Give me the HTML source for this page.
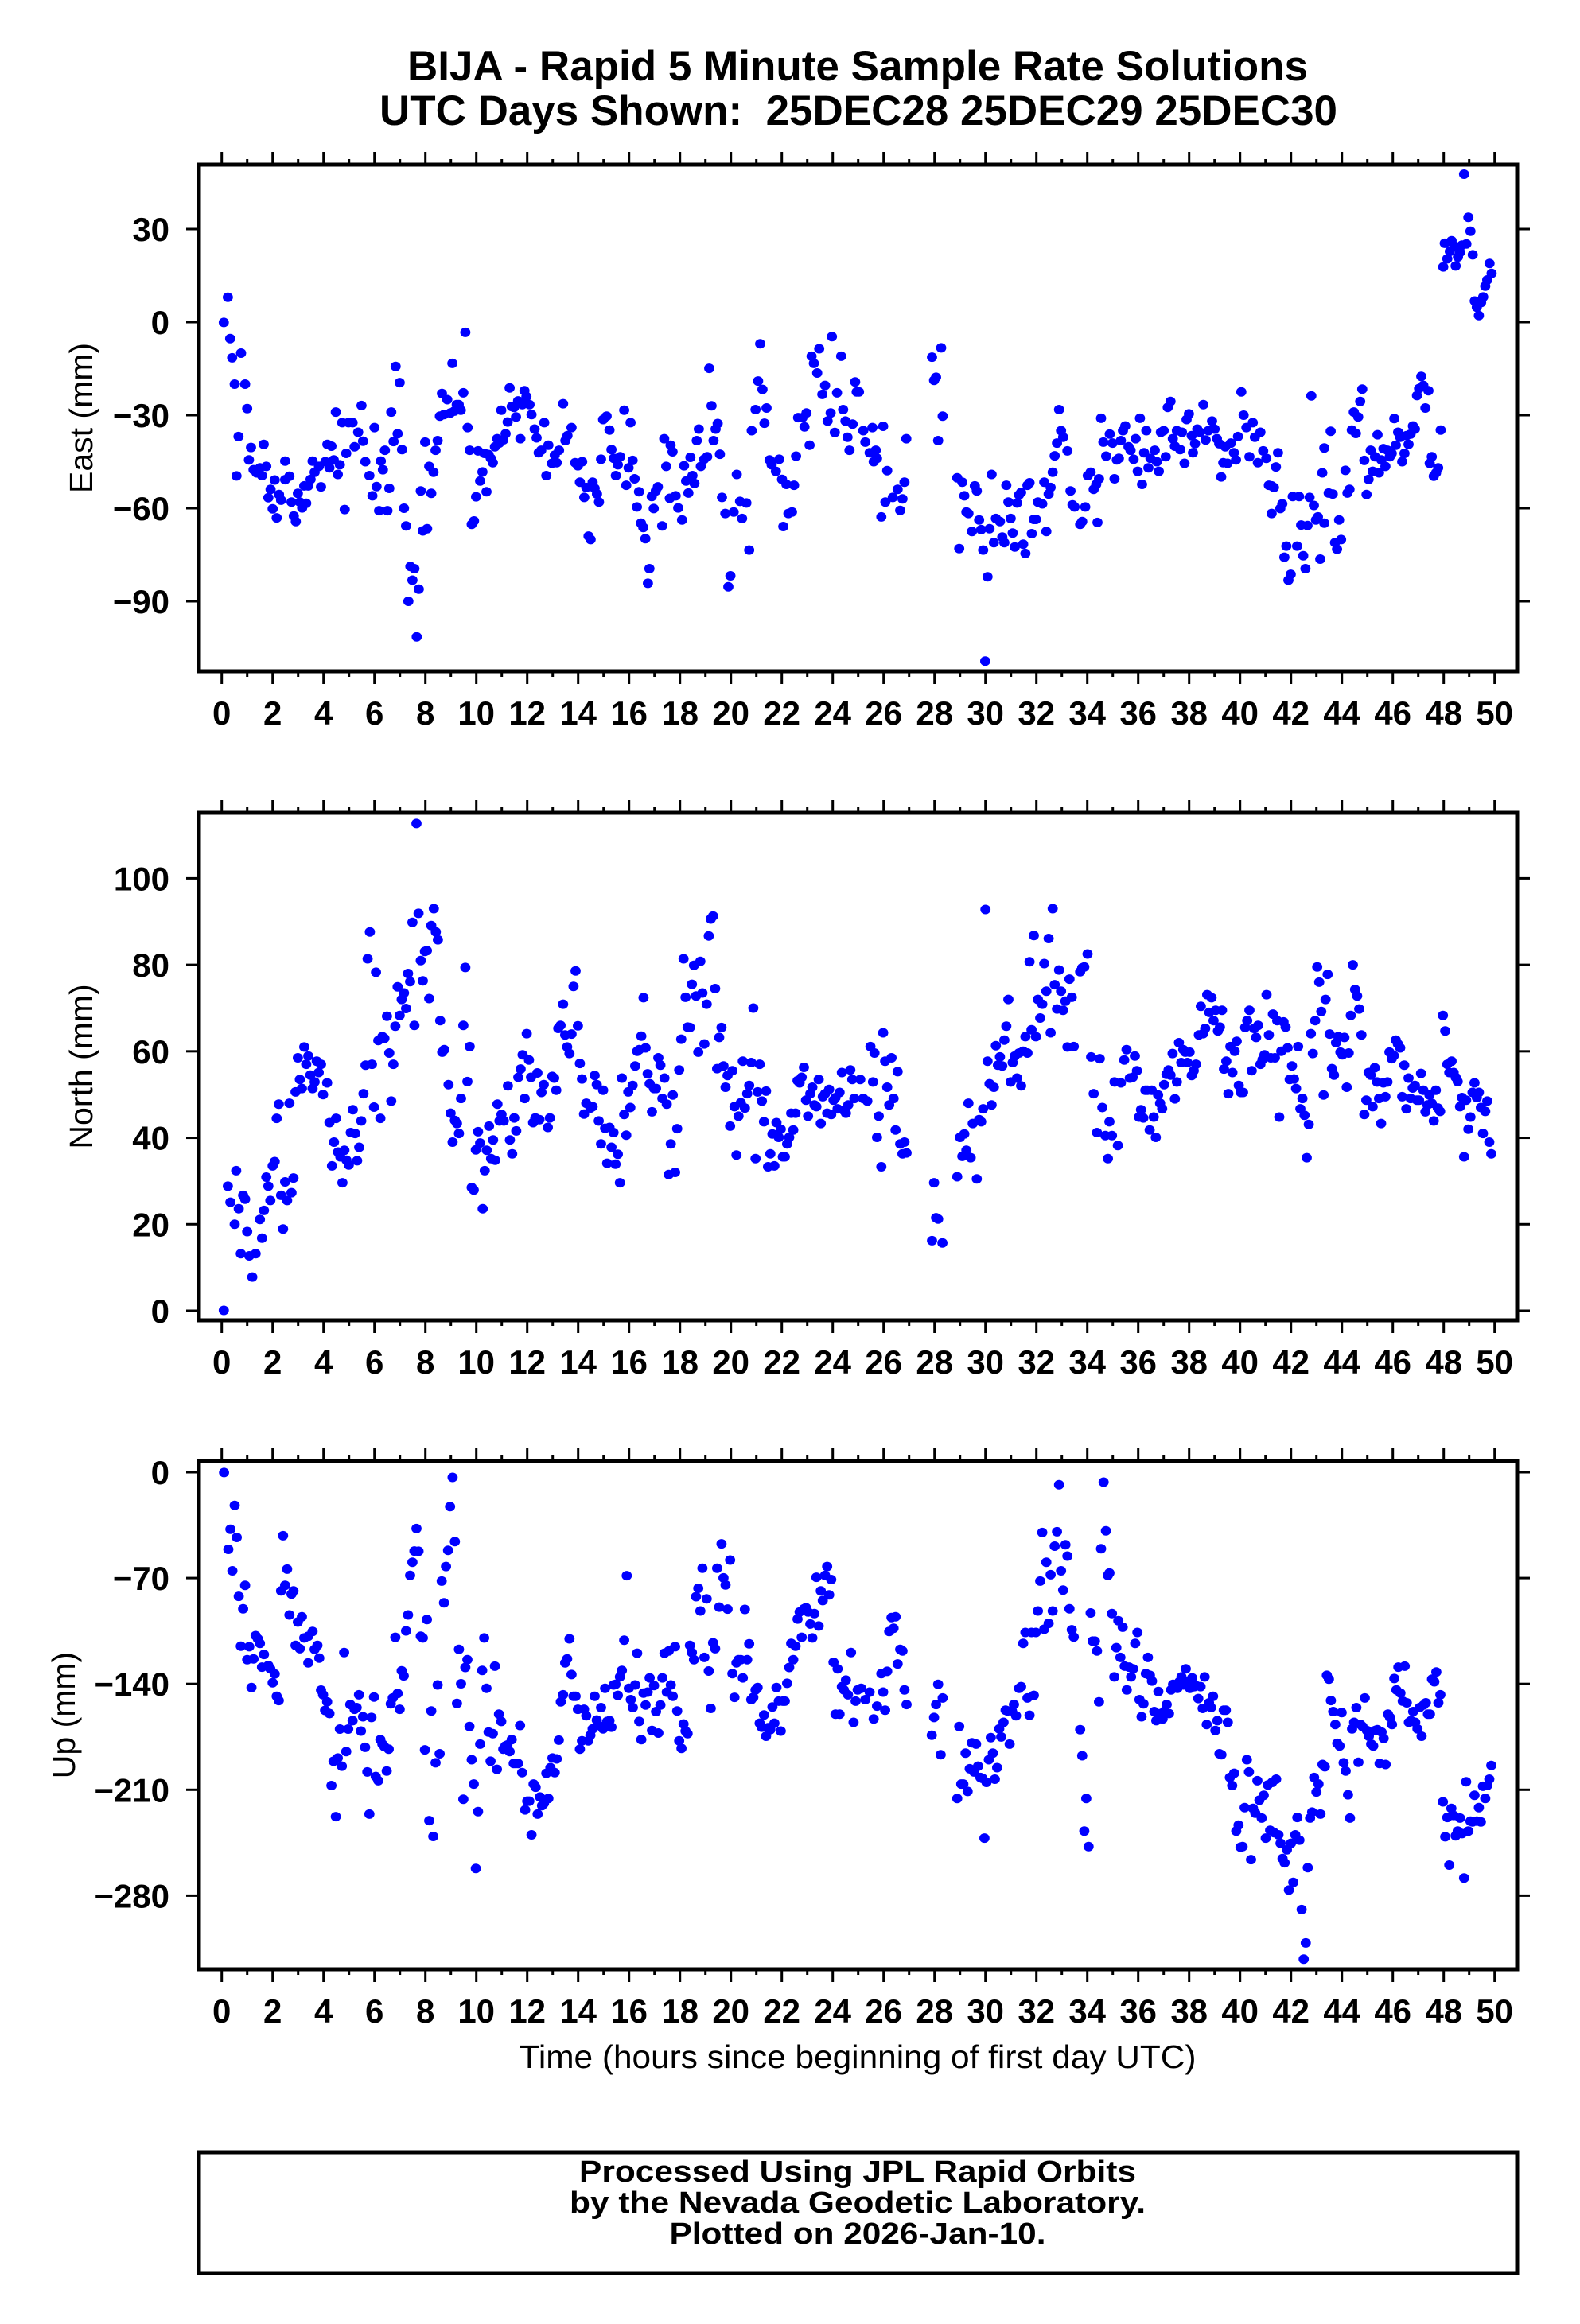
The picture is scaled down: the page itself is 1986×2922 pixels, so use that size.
<!DOCTYPE html>
<html><head><meta charset="utf-8"><title>BIJA Rapid 5 Minute Solutions</title>
<style>
html,body{margin:0;padding:0;background:#fff;}
svg{display:block;font-family:"Liberation Sans",Arial,sans-serif;}
</style></head>
<body>
<svg id="chart" width="1986" height="2922" viewBox="0 0 1986 2922" xmlns="http://www.w3.org/2000/svg">
<rect x="0" y="0" width="1986" height="2922" fill="#fff"/>
<text x="1078" y="101" text-anchor="middle" font-weight="bold" font-size="53" textLength="1132" lengthAdjust="spacingAndGlyphs">BIJA - Rapid 5 Minute Sample Rate Solutions</text>
<text x="1079" y="157" text-anchor="middle" font-weight="bold" font-size="53" textLength="1204" lengthAdjust="spacingAndGlyphs" xml:space="preserve">UTC Days Shown:  25DEC28 25DEC29 25DEC30</text>
<g id="panels"></g>
<text x="1078" y="2600" text-anchor="middle" font-size="41" textLength="851" lengthAdjust="spacingAndGlyphs">Time (hours since beginning of first day UTC)</text>
<rect x="250" y="2706" width="1657" height="152" fill="none" stroke="#000" stroke-width="5"/>
<text x="1078" y="2743" text-anchor="middle" font-weight="bold" font-size="38" textLength="700" lengthAdjust="spacingAndGlyphs">Processed Using JPL Rapid Orbits</text>
<text x="1078" y="2782" text-anchor="middle" font-weight="bold" font-size="38" textLength="724" lengthAdjust="spacingAndGlyphs">by the Nevada Geodetic Laboratory.</text>
<text x="1078" y="2821" text-anchor="middle" font-weight="bold" font-size="38" textLength="473" lengthAdjust="spacingAndGlyphs">Plotted on 2026-Jan-10.</text>
</svg>
<script>
// ---------- data ----------
const xTicks = [0,2,4,6,8,10,12,14,16,18,20,22,24,26,28,30,32,34,36,38,40,42,44,46,48,50];
const eastTicks = [30,0,-30,-60,-90];
const northTicks = [100,80,60,40,20,0];
const upTicks = [0,-70,-140,-210,-280];

const eastTime = [0.08,0.24,0.33,0.41,0.51,0.58,0.66,0.76,0.92,1.0,1.07,1.15,1.25,1.37,1.5,1.58,1.65,1.75,1.83,1.92,2.0,2.08,2.16,2.25,2.33,2.49,2.49,2.66,2.74,2.83,2.91,2.99,3.07,3.16,3.32,3.24,3.4,3.49,3.57,3.65,3.82,3.9,4.07,4.15,4.31,4.23,4.4,4.48,4.56,4.64,4.73,4.83,4.89,4.98,5.14,5.22,5.36,5.49,5.55,5.64,5.8,5.92,6.0,6.08,6.18,6.25,6.33,6.41,6.51,6.58,6.66,6.75,6.83,6.91,6.99,7.08,7.16,7.24,7.33,7.41,7.57,7.49,7.66,7.74,7.82,7.9,8.07,7.99,8.15,8.23,8.32,8.4,8.48,8.57,8.73,8.65,8.86,8.98,9.06,9.14,9.23,9.31,9.39,9.49,9.57,9.66,9.74,9.82,9.91,9.99,10.07,10.15,10.24,10.32,10.4,10.48,10.57,10.65,10.73,10.82,10.9,10.98,11.06,11.15,11.23,11.31,11.39,11.48,11.56,11.64,11.73,11.81,11.89,11.97,12.09,12.17,12.29,12.37,12.45,12.55,12.67,12.75,12.83,12.97,13.08,13.16,13.25,13.41,13.5,13.58,13.74,13.88,13.99,14.07,14.16,14.24,14.32,14.41,14.49,14.57,14.65,14.74,14.82,14.9,14.98,15.12,15.23,15.31,15.4,15.48,15.56,15.65,15.81,15.89,15.98,16.06,16.14,16.22,16.31,16.39,16.47,16.56,16.64,16.74,16.8,16.89,16.97,17.05,17.13,17.3,17.38,17.46,17.6,17.63,17.71,17.83,17.93,18.08,18.16,18.24,18.33,18.41,18.49,18.57,18.66,18.74,18.82,18.95,19.07,19.15,19.24,19.32,19.4,19.48,19.57,19.65,19.78,19.9,19.98,20.11,20.23,20.36,20.44,20.61,20.72,20.82,20.97,21.07,21.15,21.24,21.32,21.4,21.52,21.6,21.77,21.9,22.01,22.06,22.18,22.26,22.4,22.48,22.56,22.64,22.81,22.89,22.97,23.09,23.17,23.26,23.39,23.47,23.59,23.7,23.8,23.92,23.97,24.08,24.17,24.33,24.41,24.5,24.58,24.66,24.78,24.88,24.94,
25.03,25.2,25.56,25.98,25.28,25.45,25.69,25.74,25.61,25.91,26.14,26.07,26.36,26.55,26.65,26.74,26.82,26.89,27.9,27.98,28.06,28.26,28.32,28.14,28.89,29.09,29.17,28.97,29.33,29.25,29.47,29.58,29.66,29.75,29.83,29.91,30.08,29.99,30.16,30.24,30.33,30.41,30.57,30.66,30.74,30.82,30.9,30.99,31.07,31.15,31.24,31.32,31.4,31.48,31.57,31.65,31.73,31.82,31.9,31.98,32.06,32.23,32.31,32.48,32.56,32.39,32.64,32.72,32.81,32.89,32.97,33.05,33.22,33.34,33.42,33.5,33.72,33.8,33.92,34.02,34.13,34.25,34.35,34.46,34.4,34.54,34.63,34.74,34.88,34.99,35.07,35.16,35.24,35.32,35.4,35.49,35.62,35.7,35.82,35.9,35.98,36.07,36.15,36.23,36.32,36.4,36.48,36.65,36.73,36.81,36.89,37.0,37.08,37.16,37.27,37.36,37.44,37.52,37.65,37.72,37.82,37.9,37.99,38.1,38.15,38.23,38.32,38.43,38.56,38.65,38.76,38.9,39.0,39.09,39.18,39.26,39.34,39.42,39.51,39.64,39.76,39.84,39.92,40.05,40.14,40.25,40.37,40.5,40.58,40.7,40.8,40.91,41.03,41.13,41.24,41.33,41.41,41.49,41.24,41.58,41.66,41.74,41.82,41.9,41.99,42.07,42.24,42.32,42.4,42.48,42.57,42.65,42.73,42.8,42.9,42.98,43.06,43.15,43.31,43.23,43.31,43.48,43.56,43.64,43.73,43.81,43.89,43.97,44.14,44.22,44.3,44.39,44.47,44.55,44.64,44.72,44.8,44.88,44.97,45.05,45.13,45.21,45.3,45.4,45.46,45.55,45.63,45.71,45.79,45.88,45.96,46.06,46.12,46.21,46.29,46.37,46.46,46.54,46.62,46.7,46.79,46.87,46.95,47.03,47.12,47.2,47.28,47.4,47.45,47.53,47.61,47.7,47.78,47.88,47.98,48.04,48.14,48.24,48.31,48.41,48.47,48.56,48.64,48.72,48.8,48.89,48.97,49.05,49.14,49.22,49.3,49.38,49.47,49.55,49.63,49.71,49.8,49.88];
const eastMm = [-0.1,8.0,-5.3,-11.5,-20,-49.6,-36.9,-10,-20,-27.9,-44.4,-40.4,-47.6,-48.6,-47,-49.5,-39.4,-46.5,-56.6,-53.9,-60.2,-50.9,-63.1,-55.6,-57.4,-44.8,-50.8,-49.7,-58,-62.5,-64.3,-55.2,-58,-59.9,-58.4,-52.8,-52.8,-50.7,-44.8,-48.4,-46.5,-53.1,-45,-39.4,-40,-47,-44.4,-29,-49.1,-46,-32.4,-60.4,-42.3,-32.4,-32.4,-40.2,-35.5,-26.9,-38.4,-45,-49.5,-56,-34,-53,-60.8,-44.8,-47.6,-41.3,-60.8,-53.6,-29,-38.5,-14.3,-36,-19.5,-41.1,-60,-65.7,-90,-78.8,-79.5,-83.2,-101.5,-86.1,-54.4,-67.3,-66.6,-38.7,-46.5,-55.2,-48.4,-41.3,-38.2,-30.3,-29.8,-23,-25,-29.3,-13.3,-28.7,-26.6,-26.6,-28.4,-22.8,-3.3,-34,-41.3,-65.2,-64.1,-56.3,-41.5,-51.2,-48.3,-42.3,-54.7,-42.7,-43.9,-45.3,-40.2,-37.6,-39,-28.4,-38,-36,-32.2,-21.2,-27.2,-27.5,-30.6,-25.4,-37.6,-26.6,-22.1,-24,-26.6,-29.8,-34.5,-37.3,-42.1,-41.3,-32.4,-49.5,-39.7,-45.5,-42.9,-45.3,-41.3,-26.3,-38.2,-36.6,-34,-45.3,-46.3,-51.6,-45,-56.5,-53.3,-69,-70.1,-51.6,-53.6,-55.4,-58,-44.2,-31.4,-30.3,-34.8,-41.1,-43.9,-49.5,-46,-43.4,-28.4,-52.6,-47,-32.4,-44.6,-50.5,-59.6,-54.7,-64.8,-66.2,-69.8,-84.2,-79.5,-56.2,-60.1,-54.4,-53.1,-65.7,-37.6,-46.5,-56.8,-39.7,-41.8,-56,-59.9,-63.8,-46.3,-51.2,-55.1,-43.6,-49.5,-52,-38.2,-34.5,-46.5,-44.2,-43.4,-14.9,-27,-38.2,-34.5,-32.7,-42.6,-56.5,-61.7,-85.3,-81.8,-61.2,-49.1,-57.8,-63.3,-58.3,-73.5,-35,-28.2,-19,-7,-21.7,-32.6,-27.7,-44.4,-46,-48.1,-44.2,-50.7,-65.9,-52.3,-61.7,-61.2,-52.6,-43.2,-30.8,-30.8,-33.8,-29.3,-39.7,-11,-13.3,-16.4,-8.6,-23.3,-20.4,-31.9,-29.3,-4.7,-35.6,-22.8,-11,-28.2,-31.9,-37.1,-41.3,-32.9,-19.3,-22.5,
-22.5,-35,-34,-33.6,-38.7,-42.1,-41.3,-43.9,-45,-62.8,-47.9,-58,-56.5,-53.9,-60.7,-57,-51.6,-37.6,-11.3,-18.8,-17.8,-8.3,-30.3,-38.2,-50.2,-51.6,-56,-73,-61.7,-61.2,-67.5,-52.8,-54.4,-63.8,-66.9,-73.5,-82.1,-109.3,-66.6,-49.1,-71.1,-63.3,-64.3,-69.3,-71.1,-52.6,-58,-63.3,-68,-72.5,-58.3,-55.7,-54.9,-71.6,-74.6,-52.6,-51.8,-68.2,-63.6,-63.6,-58,-58.6,-51.6,-55.4,-53.3,-67.5,-48.4,-43.1,-39,-28.2,-35,-37.1,-41.5,-54.4,-58.9,-59.6,-65.2,-64.3,-59.6,-49.5,-48.4,-53.9,-52.3,-50.5,-64.6,-31,-38.7,-43.2,-36.1,-39,-50.5,-44.4,-43.9,-38.2,-35,-33.5,-40.2,-41.3,-44.2,-37.6,-48.1,-31,-52.3,-42.1,-35,-47,-43.9,-41.3,-45,-48.1,-35.5,-35,-43.4,-27.5,-25.6,-37.6,-40,-35,-41.1,-35.5,-45.5,-31.4,-29.6,-36.6,-42.1,-39.2,-34.5,-35.5,-26.6,-38,-35,-31.9,-34.5,-37.6,-39.2,-49.9,-45.3,-40.2,-45.5,-39,-42.1,-44.4,-36.9,-22.5,-30,-34,-43.4,-32.4,-37.1,-45.3,-35.5,-41.5,-43.9,-52.6,-52.8,-53.3,-46.7,-42.1,-61.7,-60.1,-58.6,-75.8,-72.2,-83.2,-81.3,-56.2,-72.2,-56.2,-65.4,-75.3,-79.5,-65.6,-56.5,-23.8,-59.1,-63.8,-62.8,-76.4,-64.8,-48.6,-40.6,-55.1,-35.2,-55.4,-71.1,-73.2,-63.8,-70.1,-47.8,-55.1,-53.9,-34.8,-29,-35.9,-30.6,-25.6,-21.6,-44.6,-55.6,-50.7,-41.3,-48.1,-43.4,-36.3,-48.6,-44.4,-40.8,-46.5,-41.3,-43.4,-42.3,-31.1,-39.7,-35.5,-37.1,-45,-42.3,-36.6,-39.4,-36.1,-33.5,-34.5,-23.7,-21.4,-17.5,-20.4,-27.7,-22.1,-45.5,-43.4,-49.7,-48.6,-47,-34.8,17.8,25.4,20.4,22.8,26.2,24.6,18.1,21,22.5,24.8,47.7,25.2,33.8,29.3,21.7,6.8,4.8,2.1,6.3,8.1,11.6,13.6,18.9,15.7];

const northTime = [0.08,0.24,0.34,0.51,0.57,0.67,0.75,0.84,0.92,1.0,1.08,1.2,1.33,1.5,1.58,1.66,1.75,1.83,1.91,2.0,2.08,2.16,2.24,2.33,2.41,2.49,2.57,2.66,2.74,2.82,2.9,2.99,3.07,3.15,3.24,3.32,3.4,3.48,3.57,3.65,3.73,3.81,3.9,3.98,4.14,4.23,4.33,4.41,4.49,4.57,4.66,4.74,4.82,4.9,4.99,5.07,5.15,5.24,5.32,5.4,5.48,5.57,5.65,5.73,5.82,5.9,5.98,6.06,6.15,6.23,6.31,6.39,6.49,6.58,6.66,6.74,6.82,6.91,6.99,7.07,7.16,7.24,7.32,7.4,7.49,7.57,7.65,7.73,7.82,7.9,7.98,8.06,8.15,8.23,8.33,8.41,8.49,8.58,8.66,8.74,8.91,8.99,9.07,9.16,9.24,9.32,9.4,9.49,9.57,9.65,9.74,9.9,9.82,9.98,10.07,10.15,10.25,10.33,10.41,10.5,10.58,10.66,10.74,10.83,10.91,10.99,11.08,11.24,11.32,11.41,11.49,11.57,11.65,11.74,11.82,11.9,11.98,12.07,12.15,12.23,12.32,12.4,12.48,12.56,12.65,12.81,12.89,12.98,13.06,13.14,13.22,13.31,13.41,13.49,13.57,13.66,13.74,13.82,13.9,13.99,14.07,14.15,14.23,14.32,14.48,14.57,14.65,14.73,14.81,14.9,14.98,15.06,15.14,15.23,15.31,15.39,15.47,15.56,15.64,15.72,15.81,15.89,15.97,16.05,16.14,16.24,16.32,16.4,16.48,16.57,16.65,16.73,16.81,16.9,16.98,17.06,17.15,17.23,17.31,17.39,17.48,17.56,17.64,17.72,17.81,17.89,17.97,18.05,18.14,18.22,18.3,18.39,18.47,18.55,18.63,18.72,18.8,18.88,18.96,19.05,19.13,19.21,19.3,19.38,19.46,19.54,19.63,19.71,19.79,19.87,19.97,20.06,20.14,20.22,20.3,20.39,20.47,20.55,20.64,20.72,20.8,20.88,20.97,21.05,21.13,21.22,21.3,21.38,21.46,21.55,21.63,21.71,21.79,21.88,21.96,22.04,22.12,22.21,22.29,22.37,22.45,22.54,22.62,22.7,22.78,22.87,22.95,23.03,23.12,23.2,23.28,23.36,23.45,23.53,23.61,23.7,23.78,23.86,23.94,24.03,24.11,24.19,24.27,24.36,24.44,24.52,24.61,24.69,24.77,24.85,
25.08,25.2,25.36,25.48,25.58,25.64,25.74,25.81,25.91,25.98,26.06,26.14,26.22,26.31,26.39,26.47,26.55,26.65,26.74,26.82,26.9,27.98,28.06,28.14,27.9,28.31,28.89,29,29.17,29.09,29.25,29.33,29.42,29.5,29.66,29.75,29.83,29.91,30,30.08,30.16,30.24,30.33,30.41,30.49,30.57,30.66,30.74,30.82,30.9,30.99,31.07,31.15,31.24,31.32,31.4,31.48,31.57,31.65,31.73,31.81,31.9,31.98,32.06,32.15,32.23,32.31,32.39,32.48,32.56,32.64,32.72,32.81,32.89,32.97,33.05,33.14,33.22,33.3,33.39,33.47,33.72,33.8,33.88,34.01,34.15,34.25,34.38,34.49,34.59,34.71,34.81,34.87,34.97,35.07,35.2,35.32,35.45,35.54,35.67,35.78,35.87,35.95,36.03,36.11,36.2,36.28,36.36,36.45,36.53,36.61,36.69,36.78,36.86,36.94,37.02,37.11,37.19,37.27,37.35,37.44,37.52,37.6,37.69,37.77,37.85,37.93,38.02,38.1,38.18,38.27,38.38,38.46,38.55,38.63,38.71,38.79,38.88,38.96,39.04,39.13,39.21,39.29,39.37,39.46,39.54,39.62,39.7,39.79,39.87,39.95,40.03,40.12,40.2,40.28,40.37,40.46,40.55,40.63,40.71,40.8,40.88,40.96,41.04,41.13,41.21,41.29,41.37,41.46,41.54,41.62,41.71,41.79,41.87,41.95,42.04,42.12,42.2,42.28,42.37,42.45,42.53,42.62,42.7,42.78,42.86,42.95,43.03,43.11,43.19,43.28,43.36,43.44,43.52,43.61,43.69,43.77,43.86,43.94,44.02,44.1,44.19,44.27,44.35,44.43,44.52,44.6,44.68,44.77,44.88,44.96,45.05,45.13,45.21,45.29,45.38,45.46,45.54,45.63,45.71,45.79,45.87,45.96,46.04,46.12,46.2,46.29,46.37,46.45,46.53,46.62,46.7,46.78,46.87,46.95,47.03,47.11,47.2,47.28,47.36,47.44,47.53,47.61,47.69,47.77,47.86,47.97,48.06,48.14,48.22,48.31,48.39,48.47,48.55,48.64,48.72,48.8,48.88,48.97,49.05,49.13,49.21,49.3,49.38,49.46,49.54,49.63,49.71,49.79,49.87];
const northMm = [0.1,28.8,25.1,20,32.4,23.6,13.2,26.7,25.8,18.3,12.7,7.8,13.2,21.1,16.8,23.2,30.9,28.8,25.5,33.5,34.5,44.5,47.8,26.7,18.9,29.8,25.5,48,27.3,30.7,50.6,58.5,53.5,51.4,61,57,58.9,54.5,51.4,52.9,57.7,55.1,57,50,52.7,43.5,33.5,39,44.5,36.7,35.6,29.6,37.1,34.8,33.7,41.2,46.5,41,34.7,37.8,43.9,50.2,56.8,81.4,87.6,57,47.1,78.3,62.5,44.5,63.4,63,68.1,59.6,48.5,57,65.8,74.9,68.3,72,73.5,69.9,78,76.1,89.8,66,112.7,91.9,81,76.3,83.1,83.3,72.2,89.1,93,87.6,85.8,67.1,59.8,60.4,52.3,45.7,39,44,43.3,41,49.1,66,79.4,53,61.1,27.9,28.5,37.2,41.4,38.8,23.6,32.4,37.1,42.7,35.2,39.5,34.8,47.8,43.9,45.4,43.9,52,39.5,36.3,44.6,41.6,54,55.9,59.2,49.1,64.1,58,54,43.5,44.6,55,44.2,50.5,52.3,42.4,44.6,54.2,53.8,51,65.3,66,70.9,63.8,61,59.5,64,75,78.6,65.9,57.2,53.6,45.5,48,46.9,47.2,54.4,52.3,43.9,38.6,51,42.2,34.1,42.4,37.8,41.2,33.9,36.2,29.6,53.8,45.4,40.6,50.6,47,52.1,56.6,60,60.4,63.5,72.4,60.8,54.8,52.5,46,51.4,51.4,58.5,56.8,49.1,53.8,47.8,31.5,38.6,49.9,32,42.1,55.7,62.8,81.4,72.5,65.6,65.5,75.5,79.9,72.8,59.8,80.8,73.5,61.7,70.9,86.7,90.6,91.3,74.5,56,63.2,65.5,56.6,51.7,54.4,42.7,55.5,47.2,36,45,48.1,57.7,46.9,50.2,52.1,57.4,70,35.2,50.6,57,48.5,43.7,50.8,33.3,36.3,40.9,33.5,43.5,40.1,42,35.6,35.6,38.6,40.1,45.7,41.8,45.7,53.2,52.7,54,56.3,48.7,45,50.2,51.7,47.6,47.2,53.5,43.3,49.5,50.2,45.7,51.2,45.4,48.7,49.3,46.7,50.5,55.1,46.3,45.7,47.6,55.7,53.5,49.1,
53.5,49.1,48.5,61.1,52.9,59.6,40.1,45,33.3,64.3,57.7,51.7,47.6,58.5,49.1,41.8,55.3,38.6,36.3,39,36.5,29.6,21.5,21.2,16.2,15.7,31,40.1,40.9,35.7,37.1,48,35.4,43.3,30.5,44.2,43.7,46.7,92.8,57.7,52.5,47.6,51.7,61.3,56.8,58.7,56.6,62.6,65.8,72,52.9,57.4,58.9,53.8,59.6,52,60,63.4,59.6,80.7,65,86.8,63.4,72,67.7,70.9,80.3,73.9,86.1,64.3,93,75.4,69.8,78.8,73.9,69.5,71.6,61,76.7,72.5,61.1,78.4,79.3,79.5,82.5,58.7,50.2,41.2,58.3,47,40.5,35.2,43.7,40.5,52.9,38.2,52.7,58,60.4,53.8,54,58.9,55.5,44.8,46.5,44.6,51,51,41.8,51,44.8,40.1,49.9,48,46.7,52.3,54.7,55.7,54.5,59.5,49,52.9,62,57.4,60.4,59.8,57.4,59.8,54.4,55.5,57,63.8,70.4,64.1,65.3,73.1,69,72.4,67.1,69.5,64.7,65.6,69.5,55.9,57.7,50.2,61.1,55.1,60,62.3,52.1,50.5,50.5,65.5,67.1,69.5,55.5,65.3,63.2,66,57,58.1,59.2,73.1,63.8,58.5,68.6,58.5,67.1,44.8,60,66.8,65.6,60.8,53.5,56.6,53.6,51.4,61.1,46.7,49.1,45.2,35.4,43.1,64.1,59.5,67.1,79.5,76,69.2,49.9,72,77.8,64,56,54.5,62,63.4,59.8,59.2,63.2,51.7,59.6,68.3,80,74.3,72.8,69.8,63.8,45.4,48.7,55.1,54.5,47.2,56.2,52.9,49.1,43.3,52.7,49.5,52.9,59.8,58.3,59,62.6,61.7,60.8,49.5,56.8,46.7,53.8,49.1,51.5,52.1,48.7,48.7,54.9,51,46,47.6,49.9,48,43.9,51,46.9,46.1,68.3,64.7,57,55.1,57.7,55.1,54,53,47.2,49.3,35.6,48.7,42,44.8,50.5,52.7,49.3,50.5,47,41,46.1,48.5,39,36.3];

const upTime = [0.09,0.51,0.34,0.59,0.26,0.42,0.92,0.67,0.84,0.75,1.08,1.33,1.42,1.5,1.0,1.25,1.66,1.58,1.83,1.91,2.08,2.0,1.17,2.16,2.24,2.41,2.33,2.49,2.57,2.74,2.82,2.66,2.99,3.15,2.9,3.07,3.24,3.4,3.57,3.65,3.76,3.83,3.4,3.9,3.98,4.14,4.06,4.23,4.64,4.97,4.39,4.56,4.72,4.31,4.48,4.81,4.89,5.05,5.14,5.22,5.3,5.39,5.47,5.55,5.63,5.72,5.8,5.88,5.98,6.05,6.15,6.23,6.31,6.39,6.48,6.56,6.64,6.72,6.82,6.91,6.99,7.07,7.15,7.24,7.32,7.4,7.49,7.57,7.65,7.73,7.82,7.9,7.98,8.06,8.15,8.23,8.31,8.4,8.48,8.56,8.64,8.73,8.81,8.89,8.97,9.07,9.16,9.24,9.32,9.4,9.49,9.57,9.65,9.73,9.82,9.9,9.98,10.07,10.15,10.23,10.31,10.4,10.48,10.56,10.65,10.73,10.81,10.89,10.98,11.06,11.14,11.22,11.31,11.39,11.47,11.55,11.64,11.72,11.8,11.92,12.0,12.08,12.17,12.25,12.33,12.41,12.5,12.58,12.66,12.75,12.83,12.91,12.99,13.08,13.16,13.24,13.32,13.41,13.49,13.57,13.66,13.74,13.82,13.9,13.99,14.07,14.15,14.23,14.32,14.4,14.48,14.57,14.65,14.73,14.81,14.9,14.98,15.06,15.14,15.23,15.31,15.39,15.47,15.56,15.64,15.72,15.81,15.91,15.99,16.07,16.15,16.24,16.32,16.4,16.48,16.57,16.65,16.73,16.81,16.9,16.98,17.06,17.15,17.23,17.31,17.39,17.48,17.56,17.64,17.72,17.81,17.89,17.97,18.06,18.14,18.22,18.3,18.39,18.47,18.55,18.63,18.72,18.8,18.88,18.96,19.05,19.13,19.21,19.3,19.38,19.46,19.54,19.63,19.71,19.79,19.87,19.97,20.06,20.14,20.22,20.3,20.39,20.47,20.55,20.64,20.72,20.8,20.88,20.97,21.05,21.13,21.21,21.3,21.38,21.46,21.55,21.63,21.71,21.79,21.88,21.96,22.04,22.12,22.21,22.29,22.37,22.45,22.54,22.62,22.7,22.78,22.87,22.95,23.03,23.12,23.2,23.28,23.36,23.45,23.53,23.61,23.7,23.78,23.86,23.94,24.03,24.11,24.19,24.27,24.36,24.44,24.52,24.6,24.72,24.82,24.9,24.98,
25.12,25.28,25.45,25.61,25.74,25.91,25.98,26.06,26.14,26.22,26.31,26.39,26.47,26.55,26.65,26.74,26.82,26.9,27.89,27.98,28.06,28.14,28.24,28.32,28.89,28.97,29.05,29.13,29.22,29.3,29.38,29.47,29.55,29.63,29.71,29.8,29.88,29.96,30.04,30.13,30.21,30.29,30.37,30.46,30.54,30.62,30.71,30.79,30.87,30.95,31.04,31.12,31.2,31.32,31.4,31.48,31.57,31.65,31.73,31.81,31.9,31.98,32.06,32.15,32.23,32.31,32.39,32.48,32.56,32.64,32.72,32.81,32.89,32.97,33.05,33.14,33.22,33.3,33.39,33.47,33.72,33.8,33.88,33.96,34.05,34.13,34.21,34.3,34.38,34.46,34.54,34.64,34.73,34.81,34.87,34.97,35.06,35.14,35.22,35.3,35.39,35.47,35.55,35.64,35.72,35.8,35.88,35.97,36.05,36.13,36.21,36.3,36.38,36.46,36.54,36.63,36.71,36.79,36.88,36.96,37.04,37.12,37.21,37.29,37.37,37.45,37.54,37.62,37.7,37.78,37.87,37.95,38.03,38.12,38.2,38.28,38.36,38.45,38.53,38.61,38.69,38.78,38.86,38.94,39.03,39.11,39.19,39.27,39.36,39.44,39.52,39.6,39.69,39.77,39.85,39.94,40.02,40.1,40.18,40.27,40.35,40.43,40.51,40.6,40.68,40.76,40.85,40.93,41.01,41.09,41.18,41.26,41.34,41.42,41.51,41.59,41.67,41.75,41.84,41.92,42.0,42.09,42.17,42.25,42.33,42.42,42.5,42.58,42.66,42.75,42.83,42.91,43.0,43.08,43.16,43.24,43.33,43.41,43.49,43.57,43.66,43.74,43.82,43.91,43.99,44.07,44.15,44.24,44.32,44.4,44.48,44.57,44.65,44.73,44.81,44.9,44.98,45.06,45.15,45.23,45.31,45.39,45.48,45.56,45.64,45.72,45.81,45.89,45.97,46.06,46.14,46.22,46.3,46.39,46.47,46.55,46.63,46.72,46.8,46.88,46.97,47.05,47.13,47.21,47.3,47.38,47.46,47.54,47.63,47.71,47.79,47.87,47.97,48.06,48.14,48.22,48.3,48.39,48.47,48.55,48.64,48.72,48.8,48.88,48.97,49.05,49.13,49.21,49.3,49.38,49.46,49.54,49.63,49.71,49.79,49.87];
const upMm = [-0.2,-22,-37.7,-43.1,-51,-65.2,-74.8,-82.1,-90.3,-115,-115.4,-108.1,-110.2,-113.2,-124,-123.5,-120.5,-128.9,-127.8,-130,-133.4,-139.2,-142.4,-148.2,-151,-42,-78.5,-74.8,-64.1,-80.6,-78.5,-94.4,-99.1,-95.6,-114.5,-116.7,-109.6,-108.5,-105.3,-117.1,-114.5,-122.9,-126.1,-144.1,-147.2,-151.9,-157.5,-159.6,-169.9,-169.9,-191.1,-189,-194.4,-207.2,-227.8,-119.3,-184.7,-153.6,-164.3,-156.8,-155.7,-147.2,-171.2,-161.7,-181.9,-198.2,-226.1,-162.2,-148.7,-201.2,-204,-176.8,-179.8,-181.5,-197.6,-183.2,-153.2,-149.3,-109.2,-146.3,-156.8,-131.3,-134.7,-104.9,-94.4,-68.2,-59.6,-52.1,-37.3,-52.3,-108.5,-109.6,-183.6,-97.4,-230.4,-157.9,-240.9,-192.2,-140.7,-186.2,-72,-86.4,-62.4,-51.7,-22.7,-3.4,-45.9,-152.9,-117.1,-139.9,-216.3,-129.1,-124,-168.2,-190.1,-206.2,-262,-224.4,-179.8,-131.1,-109.6,-142.9,-171.8,-191.1,-172.9,-128.3,-196.5,-160,-164.8,-183.2,-181.1,-180.4,-184.7,-176.8,-192.6,-192.6,-192.6,-167.5,-198.7,-223.3,-217.5,-217.5,-239.8,-206.2,-208.3,-226.1,-214.8,-220.5,-219,-199.1,-215.8,-195.4,-189,-198.7,-189.6,-177.2,-151.9,-147.2,-126.1,-123.5,-110.2,-133.8,-148.2,-148.2,-156.8,-183.2,-177.6,-156.8,-161.1,-177.6,-174,-169.7,-148.2,-163.9,-167.5,-155.7,-169.7,-142.9,-164.8,-164.3,-168.6,-140.7,-140.3,-147.6,-135.4,-131.1,-111.1,-68.4,-142.9,-150.4,-155.7,-140.7,-119.7,-164.8,-176.8,-146.1,-154,-145.4,-136,-170.8,-141.1,-158.3,-172.5,-154,-136,-119.7,-145.4,-118.2,-140.7,-148.2,-115.4,-157.9,-177.6,-182.6,-166.5,-171.2,-172.9,-114.5,-119.3,-124,-82.3,-76.8,-91.8,-63.5,-122.5,-83.8,-131.5,-156.2,-112.8,-116.7,-63.5,-89.2,-47.4,-69.9,-74.6,-90.5,-58.1,-133.2,-148.9,-126.1,-124,-124,-136,-90.7,-124,-113.5,-150.4,-148.9,-144,-142.4,-166,-168.6,-160.5,-174.6,-169,-170.3,-155.3,-166,-142.4,-151.4,-171.2,-151.4,-151.4,-139.6,-129.1,-113.2,-124,-115,-97.1,-92.4,-109.2,-90.3,-89.6,-92.4,-100.4,-109.6,-93.5,-69.5,-101.7,-78.5,-84.9,-68.2,-62.4,-81.1,-71,-125.7,-160,-130,-160,-141.8,-144,-137.5,-147.2,-119.3,-165.4,-151.4,-144,
-142.9,-150.4,-145.4,-163.2,-154.7,-133.2,-145.4,-157.4,-131.7,-105.3,-96.1,-103.2,-95.6,-126.8,-117.1,-118.2,-144,-153.6,-174,-162.2,-153.6,-140.3,-186.8,-149.3,-215.8,-168.2,-206.2,-206.2,-185.8,-211.1,-196.1,-178.9,-198.2,-179.8,-194.4,-201.9,-202.5,-242,-205.1,-190.1,-175.5,-185.8,-203,-195.4,-169.7,-175.1,-165.4,-157.4,-157.9,-179.8,-157.9,-153.6,-161.1,-142.9,-141.8,-113.2,-106,-149.3,-160.7,-106,-147.6,-106,-91.8,-72,-39.9,-103.8,-59.6,-100,-67.8,-91.8,-48.9,-39.4,-8.3,-65.2,-78,-48,-55.5,-90.3,-104.2,-109,-170.3,-187.5,-237.3,-215.8,-247.6,-93.1,-111.7,-111.7,-118.2,-151.9,-50.6,-6.6,-38.8,-68.2,-66.7,-93.5,-135.4,-116,-98.2,-122.5,-102.5,-128.3,-144,-128.9,-135.4,-130,-113.2,-106,-150.4,-161.7,-153.2,-133.2,-122.5,-134.3,-138.1,-158.3,-164.3,-145,-159.6,-163.2,-157.9,-153.6,-159.6,-144,-140.3,-141.2,-142.9,-138.6,-135.4,-140.7,-130,-138.6,-142.9,-136,-141.8,-141.2,-149.7,-141.8,-156.2,-135.4,-166.9,-152.5,-155.7,-148.2,-170.8,-164.3,-186.2,-186.8,-157.4,-157.4,-165.4,-201.9,-207.2,-199.1,-237.3,-233.4,-248,-247.6,-221.8,-190.1,-198.2,-256.2,-222.3,-225.5,-204,-216.9,-228.7,-213.7,-242,-206.8,-236.8,-205.1,-238.4,-203,-239.8,-245.4,-255.5,-258.3,-249.7,-276.3,-245.4,-271.2,-239.8,-228.3,-243.3,-289.2,-322,-311.3,-261.5,-228.7,-224.8,-201.9,-211.5,-206.2,-226.1,-193.3,-194.8,-134.3,-136.9,-151,-158.3,-166.9,-179.3,-181,-159,-192.2,-197.6,-213.3,-228.7,-169.7,-165.4,-155.7,-191.8,-166.9,-168.2,-149.3,-170.8,-174.6,-179.8,-181,-170.8,-170.3,-192.6,-171.8,-176.1,-193.3,-160,-162.2,-166.9,-136.4,-144,-128.9,-146.1,-151.4,-128.3,-152.5,-165.4,-164.3,-158.3,-165.4,-169.7,-155.7,-174.6,-154,-152.5,-160,-160,-136.9,-138.6,-132.1,-152.5,-147.2,-218,-241.1,-228.3,-259.8,-222.3,-227,-240.5,-237.3,-228.7,-239,-268.4,-204.7,-237.3,-230.8,-231.3,-213.7,-230.8,-221.8,-231.3,-207.7,-215.8,-207.2,-203,-193.9];

// ---------- layout ----------
const NS = 'http://www.w3.org/2000/svg';
const X0 = 278.7, XPH = 32, LEFT = 250, RIGHT = 1907;
function xScale(t){ return X0 + XPH * t; }
const panels = [
  {key:'east', label:'East (mm)', labelX:116, top:207, bottom:844, zeroY:405, pxPerMm:3.9, ticks:eastTicks, times:eastTime, vals:eastMm},
  {key:'north', label:'North (mm)', labelX:116, top:1022, bottom:1660, zeroY:1648, pxPerMm:5.436, ticks:northTicks, times:northTime, vals:northMm},
  {key:'up', label:'Up (mm)', labelX:94, top:1837, bottom:2476, zeroY:1851, pxPerMm:1.9014, ticks:upTicks, times:upTime, vals:upMm}
];
function mk(tag, attrs, parent){
  const el = document.createElementNS(NS, tag);
  for (const k in attrs) el.setAttribute(k, attrs[k]);
  parent.appendChild(el);
  return el;
}
const root = document.getElementById('panels');
panels.forEach(p => {
  const yScale = v => p.zeroY - p.pxPerMm * v;
  const g = mk('g', {}, root);
  
  
  for (let h = 0; h <= 50; h++) {
    const x = xScale(h);
    const len = (h % 2 === 0) ? 16 : 7;
    const tb = mk('line', {x1:x, x2:x, y1:p.bottom, y2:p.bottom + len, stroke:'#000', 'stroke-width':3}, g);
    
    
    const tt = mk('line', {x1:x, x2:x, y1:p.top, y2:p.top - len, stroke:'#000', 'stroke-width':3}, g);
    
    
  }
  xTicks.forEach(h => {
    const t = mk('text', {x:xScale(h), y:p.bottom + 67, 'text-anchor':'middle', 'font-size':42, 'font-weight':'bold'}, g);
    t.textContent = String(h);
    
    
  });
  p.ticks.forEach(v => {
    const y = yScale(v);
    const l1 = mk('line', {x1:LEFT - 16, x2:LEFT, y1:y, y2:y, stroke:'#000', 'stroke-width':3}, g);
    
    
    const l2 = mk('line', {x1:RIGHT, x2:RIGHT + 16, y1:y, y2:y, stroke:'#000', 'stroke-width':3}, g);
    
    
    const t = mk('text', {x:213, y:y + 15, 'text-anchor':'end', 'font-size':42, 'font-weight':'bold'}, g);
    t.textContent = v < 0 ? '\u2212' + Math.abs(v) : String(v);
    
    
  });
  const cy = (p.top + p.bottom) / 2;
  const yl = mk('text', {x:0, y:0, 'text-anchor':'middle', 'font-size':41, transform:'translate(' + p.labelX + ',' + cy + ') rotate(-90)'}, g);
  yl.textContent = p.label;
  
  
  const pts = mk('g', {fill:'#0000ff'}, g);
  
  
  for (let i = 0; i < p.times.length && i < p.vals.length; i++) {
    const c = mk('ellipse', {cx:xScale(p.times[i]).toFixed(1), cy:yScale(p.vals[i]).toFixed(1), rx:6.4, ry:6}, pts);
    
    
  }
  const fr = mk('rect', {x:LEFT, y:p.top, width:RIGHT - LEFT, height:p.bottom - p.top, fill:'none', stroke:'#000', 'stroke-width':5}, g);
  
  
});
</script>
</body></html>
